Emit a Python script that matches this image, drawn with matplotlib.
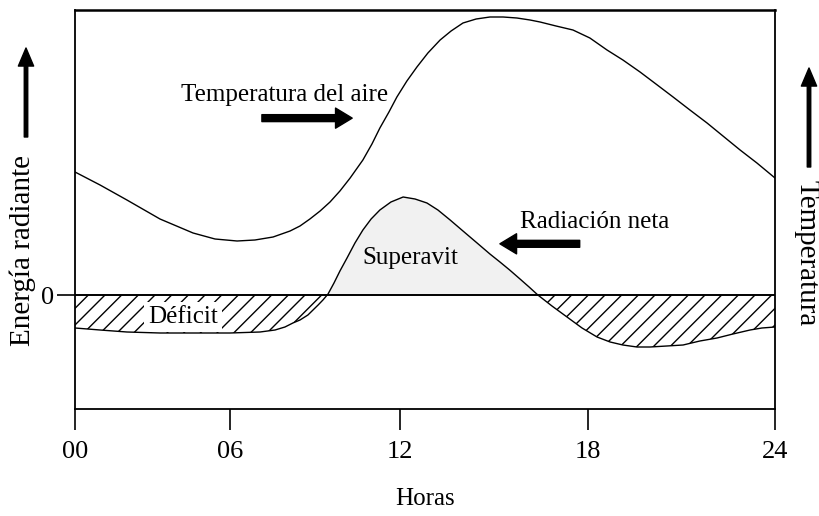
import matplotlib
matplotlib.use("Agg")
import matplotlib.pyplot as plt
import numpy as np

plt.rcParams["font.family"] = ["Liberation Serif", "DejaVu Serif"]
plt.rcParams["hatch.linewidth"] = 1.0
plt.rcParams["hatch.color"] = "black"

# hours of the day and curve values in arbitrary units
temp_hours = [0.00, 0.97, 2.01, 3.29, 4.57, 5.42, 6.25, 6.88, 7.52, 8.12, 8.47,
              8.82, 9.18, 9.53, 9.88, 10.24, 10.69, 11.01, 11.29, 11.61, 11.89,
              12.22, 12.54, 12.89, 13.28, 13.63, 14.01, 14.43, 14.87, 15.29,
              15.73, 16.15, 16.47, 16.98, 17.52, 18.06, 18.61, 19.12, 19.67,
              20.18, 20.73, 21.27, 21.82, 22.33, 22.88, 23.42, 24.00]
temp_values = [1.23, 1.10, 0.95, 0.76, 0.62, 0.56, 0.54, 0.55, 0.58, 0.64, 0.69,
               0.76, 0.84, 0.93, 1.04, 1.17, 1.35, 1.51, 1.67, 1.83, 1.98,
               2.14, 2.28, 2.42, 2.55, 2.64, 2.72, 2.76, 2.78, 2.78,
               2.77, 2.75, 2.73, 2.69, 2.65, 2.57, 2.45, 2.35, 2.23,
               2.11, 1.98, 1.85, 1.72, 1.59, 1.45, 1.32, 1.17]

rad_hours = [0.00, 0.97, 2.01, 3.29, 4.57, 6.00, 7.06, 7.59, 7.94, 8.22, 8.47,
             8.75, 8.93, 9.11, 9.28, 9.46, 9.67, 9.88, 10.13, 10.41, 10.69,
             10.98, 11.29, 11.68, 12.10, 12.48, 12.86, 13.21, 13.60, 14.01,
             14.46, 14.87, 15.19, 15.50, 15.83, 16.12, 16.40, 16.85, 17.33,
             17.81, 18.29, 18.71, 19.12, 19.57, 19.99, 20.53, 21.05, 21.59,
             22.14, 22.65, 23.20, 23.58, 24.00]
rad_values = [-0.33, -0.35, -0.37, -0.38, -0.38, -0.38, -0.37, -0.35, -0.32, -0.28, -0.25,
              -0.20, -0.15, -0.10, -0.05, 0.01, 0.12, 0.24, 0.37, 0.52, 0.65,
              0.76, 0.85, 0.93, 0.98, 0.96, 0.92, 0.85, 0.75, 0.64,
              0.52, 0.41, 0.33, 0.25, 0.16, 0.08, 0.00, -0.11, -0.22,
              -0.33, -0.42, -0.47, -0.50, -0.52, -0.52, -0.51, -0.50, -0.46,
              -0.43, -0.39, -0.35, -0.33, -0.32]

hour_ticks = [0, 6, 12, 18, 24]
hour_labels = ["00", "06", "12", "18", "24"]

# the sketch is not drawn to a uniform time scale
knots_h = [-24, 0, 6, 12, 18, 24, 48]
knots_p = [-620, 0, 155, 325, 513, 700, 1448]


def fwd(h):
    return np.interp(h, knots_h, knots_p)


def inv(p):
    return np.interp(p, knots_p, knots_h)


W, H = 820, 516
fig = plt.figure(figsize=(W / 100, H / 100), dpi=100)
ax = fig.add_axes([75 / W, (H - 409) / H, 700 / W, 399 / H])
ax.set_xscale("function", functions=(fwd, inv))

th = np.array(temp_hours)
tv = np.array(temp_values)
rh = np.array(rad_hours)
rv = np.array(rad_values)

ax.plot(th, tv, color="black", lw=1.0, zorder=3)
ax.plot(rh, rv, color="black", lw=1.0, zorder=3)
ax.fill_between(rh, 0, rv, where=rv >= 0, interpolate=True,
                facecolor="#f1f1f1", edgecolor="none", zorder=1)
ax.fill_between(rh, 0, rv, where=rv <= 0, interpolate=True,
                facecolor="none", edgecolor="black", hatch="//", lw=0, zorder=1)
ax.axhline(0, color="black", lw=1.4, zorder=4)

ax.set_xlim(0, 24)
ax.set_ylim(-1.14, 2.85)
ax.set_xticks(hour_ticks, hour_labels)
ax.set_yticks([0], ["0"])
ax.tick_params(axis="x", direction="out", length=15, width=1.2, pad=8, labelsize=19)
ax.tick_params(axis="y", direction="out", length=13, width=1.2, pad=2, labelsize=19)
for s in ax.spines.values():
    s.set_linewidth(1.3)
ax.spines["top"].set_linewidth(1.8)

ax.set_xlabel("Horas", fontsize=18, labelpad=18)

ax.text(0.30, 0.787, "Temperatura del aire", transform=ax.transAxes,
        ha="center", va="center", fontsize=18)
ax.text(0.743, 0.469, "Radiación neta", transform=ax.transAxes,
        ha="center", va="center", fontsize=18)
ax.text(0.479, 0.378, "Superavit", transform=ax.transAxes,
        ha="center", va="center", fontsize=18, zorder=2)
ax.text(0.154, 0.231, "Déficit", transform=ax.transAxes,
        ha="center", va="center", fontsize=18, zorder=2,
        bbox=dict(facecolor="white", edgecolor="none", pad=3))

arrow = dict(arrowstyle="simple,head_length=1.2,head_width=1.45,tail_width=0.5",
             color="black", mutation_scale=10, shrinkA=0, shrinkB=0)
ax.annotate("", xy=(0.396, 0.729), xytext=(0.267, 0.729),
            xycoords="axes fraction", arrowprops=arrow)
ax.annotate("", xy=(0.607, 0.414), xytext=(0.721, 0.414),
            xycoords="axes fraction", arrowprops=arrow)

# side labels with their upward arrows
thin = dict(arrowstyle="simple,head_length=1.3,head_width=1.1,tail_width=0.25",
            color="black", mutation_scale=10, shrinkA=0, shrinkB=0)
fig.text(23 / W, 1 - 251 / H, "Energía radiante", rotation=90,
         ha="center", va="center", fontsize=21)
ax.annotate("", xy=(26 / W, 1 - 48 / H), xytext=(26 / W, 1 - 137 / H),
            xycoords="figure fraction", arrowprops=thin, annotation_clip=False)
fig.text(807 / W, 1 - 253 / H, "Temperatura", rotation=270,
         ha="center", va="center", fontsize=21)
ax.annotate("", xy=(809 / W, 1 - 68 / H), xytext=(809 / W, 1 - 167 / H),
            xycoords="figure fraction", arrowprops=thin, annotation_clip=False)

fig.savefig("out.png", dpi=100)
